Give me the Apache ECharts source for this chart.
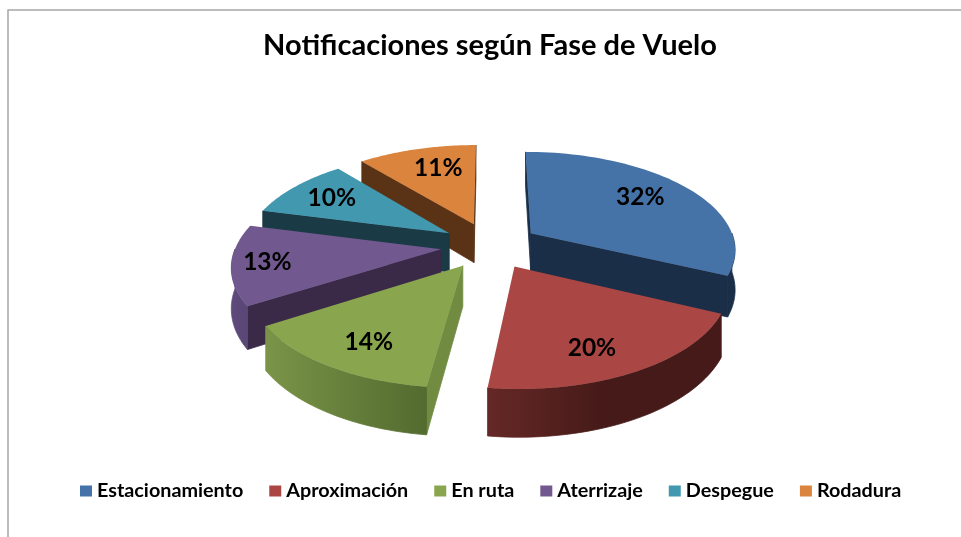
<!DOCTYPE html>
<html><head><meta charset="utf-8">
<style>html,body{margin:0;padding:0;background:#fff}#c{width:961px;height:537px}</style>
<script src="https://cdn.jsdelivr.net/npm/echarts@6/dist/echarts.min.js"></script>
</head><body><div id="c"></div>
<script>
// --- data ---
const categories = ['Estacionamiento','Aproximación','En ruta','Aterrizaje','Despegue','Rodadura'];
const percents = [32,20,14,13,10,11];
const chartTitle = 'Notificaciones según Fase de Vuelo';
// --- colours ---
const topColors  = ['#4572A7','#AA4643','#89A54E','#71588F','#4198AF','#DB843D'];
const faceColors = ['#1B2E47','#451A18','#718C41','#3A2A48','#1A3A46','#5A3316'];
const wallStops  = [['#1B2E47','#1B2E47','#1B2E47'],['#451A18','#451A18','#652826'],['#536B2F','#667F3B','#7A9448'],['#5A4776','#5C4878','#5F4A7C'],['#1A3A46','#1A3A46','#1A3A46'],['#5A3316','#5A3316','#5A3316']];
const labelNudge = [[-1,-3],[-4,11],[-4,9],[-28,2],[-7,-2],[6,-2]];

const CX=490, CY=245.5, A=205, B=97, K=0.15, DEPTH=39.5, EXPL=0.24, LABEL_R=0.7;
const total = percents.reduce((a,b)=>a+b,0);
const rad = d=>d*Math.PI/180;
function slice(i){
  let s=0; for(let j=0;j<i;j++) s+=percents[j];
  const a0=s/total*360, a1=(s+percents[i])/total*360, m=(a0+a1)/2;
  return {a0,a1,m,ex:EXPL*Math.sin(rad(m)),ey:-EXPL*Math.cos(rad(m))};
}
function proj(X,Y,Z){
  const k=1/(1-K*Y);
  return [CX+A*X*k, CY+B*Y*k+Z*k];
}
function rim(sl,a,Z){ return proj(sl.ex+Math.sin(rad(a)), sl.ey-Math.cos(rad(a)), Z); }
function apex(sl,Z){ return proj(sl.ex, sl.ey, Z); }
function makeRender(i){
  return function(){
    const sl=slice(i), kids=[];
    const side=(p,q,r)=>(q[0]-p[0])*(r[1]-p[1])-(q[1]-p[1])*(r[0]-p[0]);
    const interior=proj(sl.ex+.5*Math.sin(rad(sl.m)), sl.ey-.5*Math.cos(rad(sl.m)),0);
    [sl.a0,sl.a1].forEach(a=>{
      const p=apex(sl,0), q=rim(sl,a,0), below=[p[0],p[1]+1];
      if(side(p,q,interior)*side(p,q,below)<0){
        kids.push({type:'polygon',shape:{points:[p,q,rim(sl,a,DEPTH),apex(sl,DEPTH)]},
          style:{fill:faceColors[i],stroke:faceColors[i],lineWidth:0.8}});
      }
    });
    const w0=Math.max(sl.a0,90), w1=Math.min(sl.a1,270);
    if(w1>w0){
      const up=[],dn=[];
      for(let a=w0;a<=w1+1e-6;a+=(w1-w0)/40){ up.push(rim(sl,a,0)); dn.unshift(rim(sl,a,DEPTH)); }
      const L=Math.min(...up.map(p=>p[0])), R=Math.max(...up.map(p=>p[0]));
      const fill=new echarts.graphic.LinearGradient(R,0,L,0,wallStops[i].map((color,j)=>({offset:j/2,color})),true);
      kids.push({type:'polygon',shape:{points:up.concat(dn)},style:{fill,stroke:fill,lineWidth:0.8}});
    }
    const t=[apex(sl,0)];
    for(let a=sl.a0;a<=sl.a1+1e-6;a+=(sl.a1-sl.a0)/60) t.push(rim(sl,a,0));
    kids.push({type:'polygon',shape:{points:t},style:{fill:topColors[i]}});
    return {type:'group',children:kids};
  };
}
function labelRender(params){
  const i=params.dataIndex, sl=slice(i);
  const p=proj(sl.ex+LABEL_R*Math.sin(rad(sl.m)), sl.ey-LABEL_R*Math.cos(rad(sl.m)),0);
  return {type:'text',x:p[0]+labelNudge[i][0],y:p[1]+labelNudge[i][1],style:{text:percents[i]+'%',fill:'#000',
    font:'bold 24.5px Lato',align:'center',verticalAlign:'middle'}};
}
const paint = percents.map((_,i)=>i).sort((a,b)=>slice(a).ey-slice(b).ey);
const series = categories.map((name,i)=>({
  type:'custom',name,coordinateSystem:'none',data:[percents[i]],
  z:2+paint.indexOf(i),silent:true,animation:false,renderItem:makeRender(i),
  itemStyle:{color:topColors[i]}
}));
series.push({type:'custom',coordinateSystem:'none',data:percents,z:20,silent:true,animation:false,
  renderItem:labelRender});
const chart=echarts.init(document.getElementById('c'),null,{renderer:'canvas'});
chart.setOption({
  animation:false,backgroundColor:'#fff',
  graphic:[{type:'polyline',shape:{points:[[8,537],[8,10],[961,10]]},style:{stroke:'#a6a6a6',lineWidth:1.5,fill:null}}],
  title:{text:chartTitle,left:485,top:26,textAlign:'center',
    textStyle:{fontFamily:'Lato',fontWeight:'bold',fontSize:29,color:'#000'}},
  legend:{data:categories,left:75,top:476,itemWidth:12,itemHeight:11,itemGap:26,icon:'rect',
    textStyle:{fontFamily:'Lato',fontWeight:'bold',fontSize:19.8,color:'#000'}},
  series
});
</script></body></html>
